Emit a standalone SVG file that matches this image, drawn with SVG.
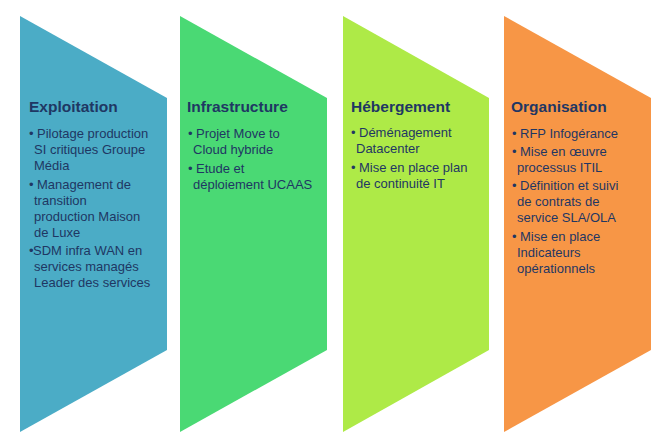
<svg xmlns="http://www.w3.org/2000/svg" width="669" height="439" viewBox="0 0 669 439">
<style>
.t{font-family:"Liberation Sans",Arial,sans-serif;font-weight:bold;font-size:15.5px;fill:#1f3763}
.b{font-family:"Liberation Sans",Arial,sans-serif;font-size:13px;fill:#1f3763}
</style>
<rect width="669" height="439" fill="#ffffff"/>
<g id="exploitation">
<polygon points="20,16 167,98 167,350 20,432" fill="#4bacc6"/>
<text class="t" x="29" y="112">Exploitation</text>
<text class="b"><tspan x="29" y="138">•</tspan><tspan x="37" y="138">Pilotage production</tspan><tspan x="34" y="154">SI critiques Groupe</tspan><tspan x="34" y="170">Média</tspan>
<tspan x="29" y="189">•</tspan><tspan x="37" y="189">Management de</tspan><tspan x="34" y="205">transition</tspan><tspan x="34" y="221">production Maison</tspan><tspan x="34" y="237">de Luxe</tspan>
<tspan x="29" y="255">•</tspan><tspan x="33" y="255">SDM infra WAN en</tspan><tspan x="34" y="271">services managés</tspan><tspan x="34" y="287">Leader des services</tspan></text>
</g>
<g id="infrastructure">
<polygon points="180,16 327,98 327,350 180,432" fill="#4ad974"/>
<text class="t" x="187" y="112">Infrastructure</text>
<text class="b"><tspan x="188" y="138">•</tspan><tspan x="196" y="138">Projet Move to</tspan><tspan x="193" y="154">Cloud hybride</tspan>
<tspan x="188" y="173">•</tspan><tspan x="196" y="173">Etude et</tspan><tspan x="193" y="189">déploiement UCAAS</tspan></text>
</g>
<g id="hebergement">
<polygon points="343,16 489,98 489,350 343,432" fill="#aeea47"/>
<text class="t" x="351" y="112">Hébergement</text>
<text class="b"><tspan x="351" y="137">•</tspan><tspan x="359" y="137">Déménagement</tspan><tspan x="356" y="153">Datacenter</tspan>
<tspan x="351" y="172">•</tspan><tspan x="359" y="172">Mise en place plan</tspan><tspan x="356" y="188">de continuité IT</tspan></text>
</g>
<g id="organisation">
<polygon points="504,16 651,98 651,350 504,432" fill="#f79646"/>
<text class="t" x="511" y="112">Organisation</text>
<text class="b"><tspan x="512" y="138">•</tspan><tspan x="520" y="138">RFP Infogérance</tspan>
<tspan x="512" y="156">•</tspan><tspan x="520" y="156">Mise en œuvre</tspan><tspan x="517" y="172">processus ITIL</tspan>
<tspan x="512" y="190">•</tspan><tspan x="520" y="190">Définition et suivi</tspan><tspan x="517" y="206">de contrats de</tspan><tspan x="517" y="222">service SLA/OLA</tspan>
<tspan x="512" y="241">•</tspan><tspan x="520" y="241">Mise en place</tspan><tspan x="517" y="257">Indicateurs</tspan><tspan x="517" y="273">opérationnels</tspan></text>
</g>
<g id="connectors"></g>
</svg>
